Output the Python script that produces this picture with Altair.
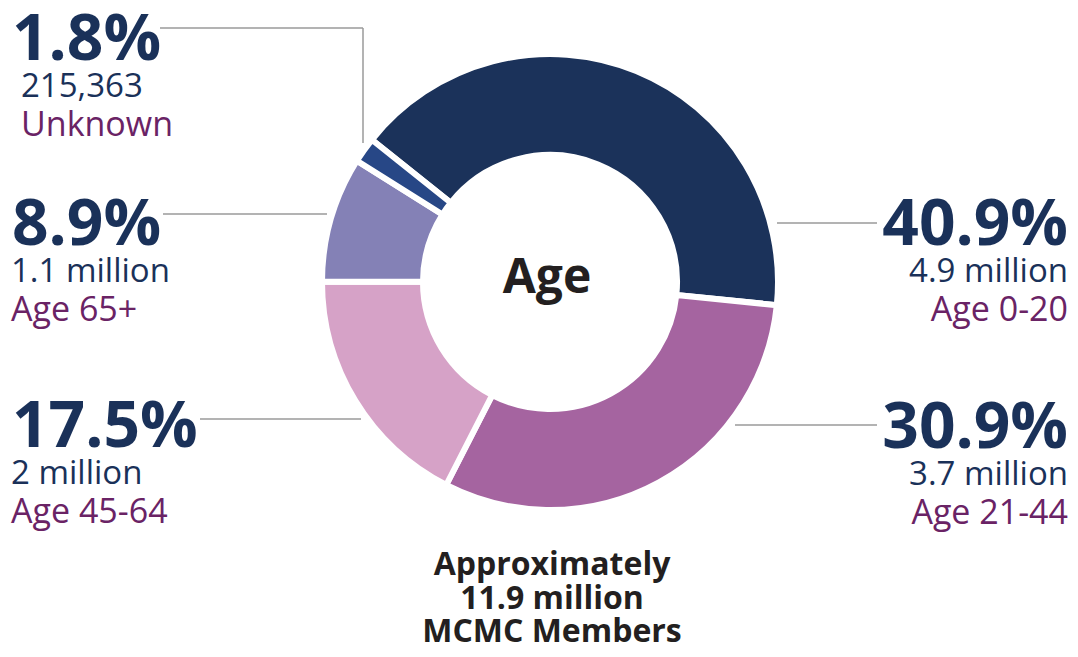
import math
import altair as alt
import pandas as pd

# ---- data ----
categories = ["Age 0-20", "Age 21-44", "Age 45-64", "Age 65+", "Unknown"]
percents = [40.9, 30.9, 17.5, 8.9, 1.8]
counts = ["4.9 million", "3.7 million", "2 million", "1.1 million", "215,363"]
pct_labels = ["40.9%", "30.9%", "17.5%", "8.9%", "1.8%"]
slice_colors = ["#1b325a", "#a564a0", "#d6a2c7", "#8481b6", "#274786"]
center_title = "Age"
footer_lines = ["Approximately", "11.9 million", "MCMC Members"]

# ---- layout (chart coordinates, not data) ----
W, H = 1062, 641
CX, CY = 542, 274
START = math.radians(-51.4)
label_x = [1060, 1060, 4, 4, 4]
label_sub_x = [1060, 1060, 3, 3, 13]
label_y = [237, 440, 439, 237, 52]
label_align = ["right", "right", "left", "left", "left"]
leader_segments = [
    (769, 215, 869, 215),
    (727, 417, 869, 417),
    (192, 411, 353, 411),
    (155, 206, 319, 206),
    (152, 20, 355, 20),
    (355, 20, 355, 135),
]

NAVY_TEXT = "#1a3159"
PURPLE_TEXT = "#6a2365"
FONT = "Open Sans"

slices = pd.DataFrame({
    "category": categories,
    "pct": percents,
    "idx": list(range(len(categories))),
})

donut = alt.Chart(slices).mark_arc(
    innerRadius=127, outerRadius=228, stroke="white", strokeWidth=6
).encode(
    theta=alt.Theta("pct:Q", stack=True,
                    scale=alt.Scale(domain=[0, 100], range=[START, START + 2 * math.pi])),
    color=alt.Color("category:N", scale=alt.Scale(domain=categories, range=slice_colors), legend=None),
    order=alt.Order("idx:Q"),
    x=alt.value(CX),
    y=alt.value(CY),
)

lines = pd.DataFrame(leader_segments, columns=["x", "y", "x2", "y2"])
leaders = alt.Chart(lines).mark_rule(color="#9a9a9a", strokeWidth=1.5).encode(
    x=alt.X("x:Q", scale=None), y=alt.Y("y:Q", scale=None),
    x2="x2:Q", y2="y2:Q",
)

labels = pd.DataFrame({
    "pct_label": pct_labels,
    "count": counts,
    "category": categories,
    "x": label_x,
    "xs": label_sub_x,
    "y": label_y,
    "align": label_align,
})

layers = [donut, leaders]
for align in ["left", "right"]:
    sub = labels[labels["align"] == align]
    base = alt.Chart(sub)
    layers.append(base.mark_text(align=align, baseline="alphabetic", font=FONT, fontSize=64,
                                 fontWeight="bold", color=NAVY_TEXT).encode(
        x=alt.X("x:Q", scale=None), y=alt.Y("y:Q", scale=None), text="pct_label:N"))
    layers.append(base.mark_text(align=align, baseline="alphabetic", font=FONT, fontSize=33,
                                 color=NAVY_TEXT, dy=37).encode(
        x=alt.X("xs:Q", scale=None), y=alt.Y("y:Q", scale=None), text="count:N"))
    layers.append(base.mark_text(align=align, baseline="alphabetic", font=FONT, fontSize=34,
                                 color=PURPLE_TEXT, dy=76).encode(
        x=alt.X("xs:Q", scale=None), y=alt.Y("y:Q", scale=None), text="category:N"))

center = alt.Chart(pd.DataFrame({"t": [center_title]})).mark_text(
    font=FONT, fontSize=48, fontWeight="bold", color="#231f20", baseline="alphabetic"
).encode(text="t:N", x=alt.value(539), y=alt.value(285))
layers.append(center)

footer = alt.Chart(pd.DataFrame({"t": footer_lines, "i": [0, 1, 2]})).mark_text(
    font=FONT, fontSize=32, fontWeight="bold", color="#231f20", baseline="alphabetic"
).encode(
    text="t:N",
    x=alt.value(544),
    y=alt.Y("i:Q", scale=alt.Scale(domain=[0, 2], range=[567, 634]), axis=None),
)
layers.append(footer)

chart = alt.layer(*layers).properties(
    width=W, height=H, autosize=alt.AutoSizeParams(type="none"), padding=0
).configure_view(stroke=None)

chart.save("out.html", embed_options={"renderer": "svg", "actions": False})
